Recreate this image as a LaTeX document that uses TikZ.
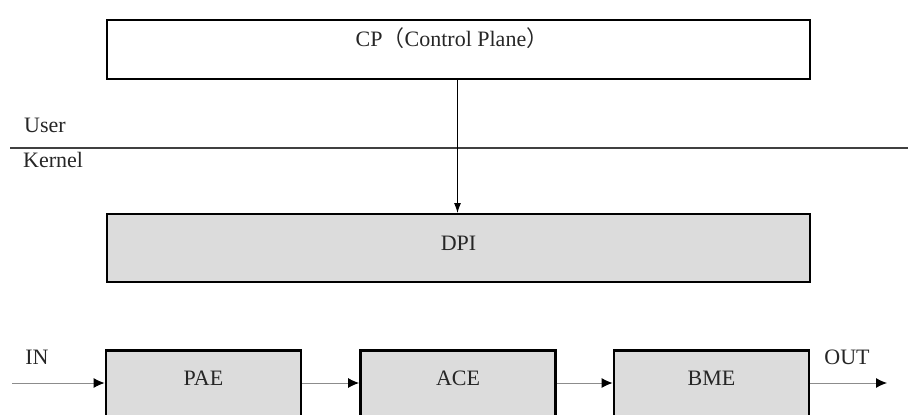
\documentclass[tikz,border=0pt]{standalone}
\usepackage{fontspec}
\setmainfont{Liberation Serif}
\newfontfamily\cjk{Noto Sans CJK SC}
\usetikzlibrary{arrows.meta}
\definecolor{boxgray}{HTML}{DCDCDC}
\tikzset{
  cpbox/.style={draw=black, line width=1.3pt, minimum width=703pt, minimum height=59pt, inner sep=0pt},
  dpibox/.style={draw=black, line width=2pt, fill=boxgray, minimum width=703pt, minimum height=68pt, inner sep=0pt},
  modbox/.style={draw=black, line width=2.8pt, fill=boxgray, minimum width=195pt, minimum height=110pt, inner sep=0pt, anchor=north},
  txt/.style={font=\fontsize{22}{24}\selectfont, inner sep=0pt, text=black!85},
  flow/.style={draw=black!45, line width=1pt, -{Latex[length=11pt,width=10pt,fill=black,color=black]}},
  ctrl/.style={draw=black, line width=1pt, -{Latex[length=10pt,width=7pt]}},
}
\begin{document}
\begin{tikzpicture}[x=1pt,y=-1pt]
\useasboundingbox (0,0) rectangle (908,415);
\clip (0,0) rectangle (908,415);
% Control plane
\node[cpbox] (cp) at (458.5,49.5) {};
\node[txt] (cpt) at (452,38) {CP{\cjk（}Control Plane{\cjk）}};
% user/kernel divider
\coordinate (divl) at (10,148);
\coordinate (divr) at (908,148);
\draw[line width=1.5pt, black!75] (divl) -- (divr);
\node[txt, anchor=west] (user) at (24,125) {User};
\node[txt, anchor=west] (kernel) at (23,160) {Kernel};
% DPI
\node[dpibox] (dpi) at (458.5,248) {};
\node[txt] (dpit) at (458.5,243) {DPI};
\draw[ctrl] (cp.south -| 457.5,0) -- (dpi.north -| 457.5,0);
% modules
\node[modbox] (pae) at (203.5,349) {};
\node[modbox] (ace) at (458,349) {};
\node[modbox] (bme) at (711.5,349) {};
\node[txt] (paet) at (203.5,378) {PAE};
\node[txt] (acet) at (458,378) {ACE};
\node[txt] (bmet) at (711.5,378) {BME};
\node[txt] (in) at (37,357) {IN};
\node[txt] (out) at (847,357) {OUT};
\coordinate (inst) at (12,383);
\coordinate (outend) at (887,383);
\draw[flow] (inst) -- (inst -| pae.west);
\draw[flow] (pae.east |- inst) -- (ace.west |- inst);
\draw[flow] (ace.east |- inst) -- (bme.west |- inst);
\draw[flow] (bme.east |- inst) -- (outend);
\end{tikzpicture}
\end{document}
